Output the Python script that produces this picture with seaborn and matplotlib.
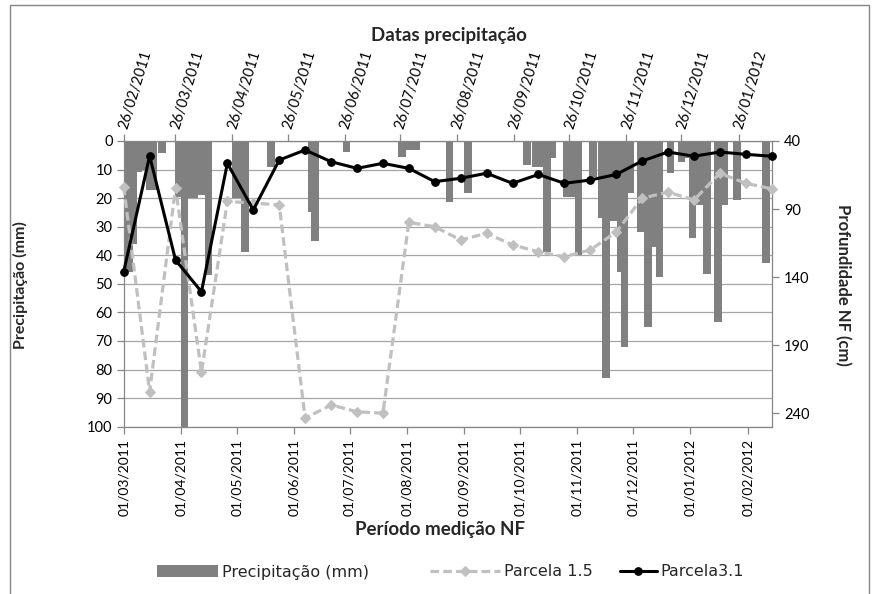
"""
Precipitação diária (barras, eixo superior) e profundidade do nível freático
(linhas, eixo inferior/direito) para as parcelas 1.5 e 3.1.
"""
import matplotlib.pyplot as plt
from matplotlib.patches import Patch, Rectangle
import pandas as pd
import seaborn as sns

# --- dados de precipitação (eixo x superior) ---
datas_precip = [
    "27/02/2011", "01/03/2011", "03/03/2011", "06/03/2011", "09/03/2011",
    "12/03/2011", "14/03/2011", "19/03/2011", "28/03/2011", "31/03/2011",
    "03/04/2011", "05/04/2011", "09/04/2011", "13/04/2011", "28/04/2011",
    "30/04/2011", "03/05/2011", "17/05/2011", "08/06/2011", "10/06/2011",
    "27/06/2011", "27/07/2011", "31/07/2011", "04/08/2011", "22/08/2011",
    "01/09/2011", "22/09/2011", "03/10/2011", "08/10/2011", "12/10/2011",
    "14/10/2011", "17/10/2011", "25/10/2011", "28/10/2011", "31/10/2011",
    "08/11/2011", "13/11/2011", "15/11/2011", "19/11/2011", "21/11/2011",
    "23/11/2011", "25/11/2011", "28/11/2011", "04/12/2011", "08/12/2011",
    "11/12/2011", "14/12/2011", "20/12/2011", "26/12/2011", "29/12/2011",
    "01/01/2012", "05/01/2012", "09/01/2012", "15/01/2012", "18/01/2012",
    "25/01/2012", "10/02/2012",
]
precip_mm = [
    17, 46, 36, 11, 10,
    17, 17, 4.3, 19.5, 100,
    20, 20, 19, 47, 20,
    20, 39, 9, 25, 35,
    3.7, 5.5, 3.2, 3.2, 21.5,
    18.3, 0.5, 8.5, 9, 9,
    38.7, 6, 19.5, 19.5, 40,
    12.5, 27, 83, 28, 28,
    45.7, 72, 18.3, 32, 65,
    37, 47.5, 11.3, 7.5, 6,
    34, 22.4, 46.5, 63.5, 22.4,
    20.7, 42.8,
]

# --- profundidade do nível freático (eixo x inferior) ---
datas_nf = [
    "01/03/2011", "15/03/2011", "29/03/2011", "12/04/2011", "26/04/2011",
    "10/05/2011", "24/05/2011", "07/06/2011", "21/06/2011", "05/07/2011",
    "19/07/2011", "02/08/2011", "16/08/2011", "30/08/2011", "13/09/2011",
    "27/09/2011", "11/10/2011", "25/10/2011", "08/11/2011", "22/11/2011",
    "06/12/2011", "20/12/2011", "03/01/2012", "17/01/2012", "31/01/2012",
    "14/02/2012",
]
parcela_15 = [
    73.6, 224.3, 74.3, 210.0, 84.4, 85.6, 87.0, 243.8, 234.0, 239.0,
    240.1, 99.8, 103.0, 112.8, 107.8, 116.4, 121.4, 125.1, 120.1, 106.9,
    82.1, 77.5, 83.4, 63.7, 71.1, 75.1,
]
parcela_31 = [
    136.1, 51.0, 127.5, 150.8, 56.4, 90.7, 54.0, 46.6, 55.2, 60.1,
    56.4, 60.1, 69.9, 67.4, 63.7, 71.1, 64.6, 71.1, 68.7, 64.6,
    54.7, 48.1, 51.2, 48.1, 49.8, 51.2,
]

ticks_topo = [
    "26/02/2011", "26/03/2011", "26/04/2011", "26/05/2011", "26/06/2011",
    "26/07/2011", "26/08/2011", "26/09/2011", "26/10/2011", "26/11/2011",
    "26/12/2011", "26/01/2012",
]
ticks_base = [
    "01/03/2011", "01/04/2011", "01/05/2011", "01/06/2011", "01/07/2011",
    "01/08/2011", "01/09/2011", "01/10/2011", "01/11/2011", "01/12/2011",
    "01/01/2012", "01/02/2012",
]

sns.set_theme(style="white")
plt.rcParams['font.family'] = ['Lato', 'DejaVu Sans']

df_precip = pd.DataFrame({
    "data": pd.to_datetime(datas_precip, dayfirst=True),
    "precip": precip_mm,
})
df_nf = pd.DataFrame({
    "data": pd.to_datetime(datas_nf, dayfirst=True),
    "Parcela 1.5": parcela_15,
    "Parcela3.1": parcela_31,
})

cinza_eixo = '#868686'
fig = plt.figure(figsize=(8.73, 5.94), dpi=100)
rect = [123.7 / 873, 1 - 426.7 / 594, 648 / 873, 285.7 / 594]
ax = fig.add_axes(rect)                        # barras: eixo superior + esquerdo
ax2 = fig.add_axes(rect, facecolor='none')     # linhas: eixo inferior + direito

# barras de precipitação
ax.bar(df_precip["data"], df_precip["precip"], width=4.2, color='#808080',
       linewidth=0, zorder=2)
ax.set_xlim(pd.Timestamp("2011-02-26"), pd.Timestamp("2012-02-13"))
ax.set_ylim(100, 0)
ax.set_yticks(range(0, 101, 10))
ax.set_xticks(pd.to_datetime(ticks_topo, dayfirst=True))
ax.set_xticklabels(ticks_topo, rotation=73, ha='left', va='center',
                   rotation_mode='anchor', fontsize=10.5)
ax.tick_params(axis='x', top=True, labeltop=True, bottom=False,
               labelbottom=False, pad=4)
ax.tick_params(axis='y', left=True, labelleft=True, right=False, pad=3,
               labelsize=10.5)
ax.tick_params(direction='out', length=5, width=0.9, color=cinza_eixo,
               labelcolor='black')
ax.yaxis.grid(True, color='#a6a6a6', lw=0.9)
ax.xaxis.grid(False)
ax.set_axisbelow(True)
for s in ax.spines.values():
    s.set_color(cinza_eixo)
    s.set_linewidth(0.9)

# linhas de profundidade
sns.lineplot(data=df_nf, x="data", y="Parcela 1.5", ax=ax2, color='#c0c0c0',
             lw=2.3, linestyle=(0, (2.7, 1.3)), marker='D', markersize=5,
             markeredgecolor='#c0c0c0', clip_on=False, label='Parcela 1.5')
sns.lineplot(data=df_nf, x="data", y="Parcela3.1", ax=ax2, color='black',
             lw=2.2, marker='o', markersize=5.5, markeredgecolor='black',
             clip_on=False, label='Parcela3.1')
ax2.set_xlim(pd.Timestamp("2011-03-01"), pd.Timestamp("2012-02-14"))
ax2.set_ylim(250, 40)
ax2.set_yticks([40, 90, 140, 190, 240])
ax2.set_xticks(pd.to_datetime(ticks_base, dayfirst=True))
ax2.set_xticklabels(ticks_base, rotation=90)
ax2.tick_params(axis='x', bottom=True, labelbottom=True, top=False,
                labeltop=False, pad=4, labelsize=10)
ax2.tick_params(axis='y', right=True, labelright=True, left=False,
                labelleft=False, pad=4, labelsize=10.5)
ax2.tick_params(direction='out', length=5, width=0.9, color=cinza_eixo,
                labelcolor='black')
ax2.set_xlabel('')
ax2.set_ylabel('')
ax2.grid(False)
for s in ax2.spines.values():
    s.set_visible(False)
ax2.get_legend().remove()

# títulos dos eixos
fig.text(449 / 873, 1 - 35 / 594, "Datas precipitação", ha='center',
         va='center', fontsize=13.5, weight='bold')
fig.text(440 / 873, 1 - 529 / 594, "Período medição NF", ha='center',
         va='center', fontsize=13.5, weight='bold')
fig.text(20 / 873, 1 - 285 / 594, "Precipitação (mm)", ha='center',
         va='center', rotation=90, fontsize=11.5, weight='bold')
fig.text(843 / 873, 1 - 285 / 594, "Profundidade NF (cm)", ha='center',
         va='center', rotation=270, fontsize=12, weight='bold')

# legenda: uma entrada por vez, para posicionar como no original
linhas = ax2.get_lines()
entradas = [
    (Patch(facecolor='#808080', edgecolor='none'), "Precipitação (mm)", 157, 3.8),
    (linhas[0], "Parcela 1.5", 430, 4.4),
    (linhas[1], "Parcela3.1", 620, 2.3),
]
for handle, texto, x0, comprimento in entradas:
    fig.legend([handle], [texto], loc='center left',
               bbox_to_anchor=(x0 / 873, 1 - 572 / 594), frameon=False,
               prop={'family': 'DejaVu Sans', 'size': 11.5}, borderpad=0,
               borderaxespad=0, handlelength=comprimento, handletextpad=0.25)

# moldura da área do gráfico
fig.patches.append(Rectangle((10 / 873, -0.05), 859 / 873, 1.05 - 5 / 594,
                             transform=fig.transFigure, fill=False,
                             edgecolor=cinza_eixo, lw=1))

plt.savefig('out.png', dpi=100)
